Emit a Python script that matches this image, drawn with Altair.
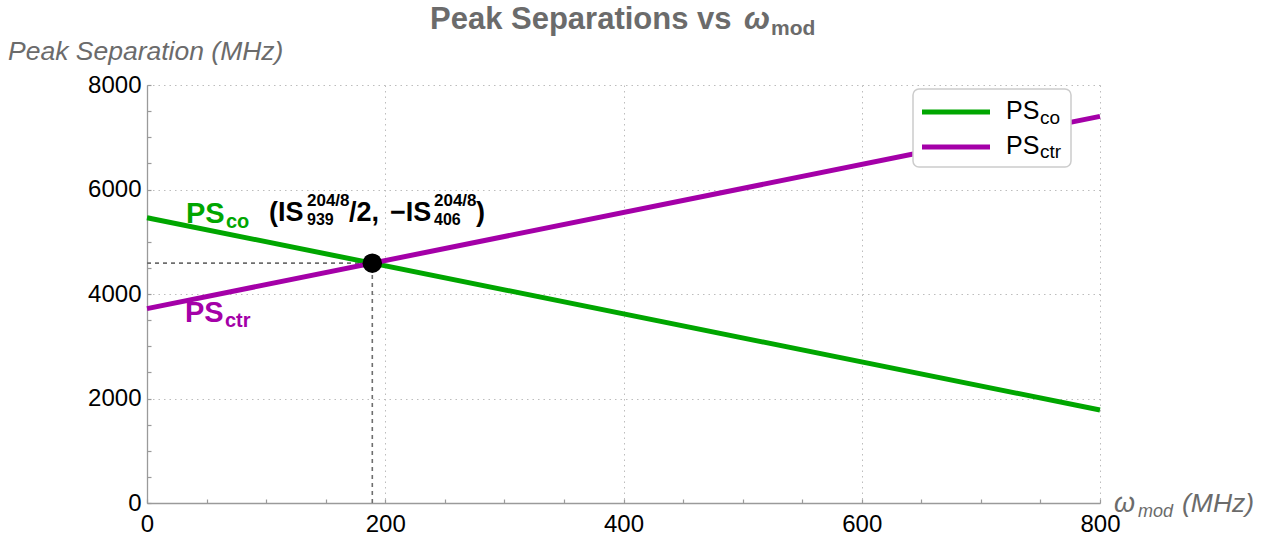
import altair as alt
import pandas as pd

# ---- data ---------------------------------------------------------------
omega_mod = [0, 800]          # MHz
ps_co = [5460, 1780]          # Peak separation, co-rotating (MHz)
ps_ctr = [3720, 7400]         # Peak separation, counter-rotating (MHz)
series_names = ["PS_co", "PS_ctr"]
series_colors = ["#00a600", "#a400a8"]
x_ticks = [0, 200, 400, 600, 800]
y_ticks = [0, 2000, 4000, 6000, 8000]
x_minor = list(range(0, 801, 50))
y_minor = list(range(0, 8001, 500))

# crossing point of the two straight lines
slope_co = (ps_co[1] - ps_co[0]) / (omega_mod[1] - omega_mod[0])
slope_ctr = (ps_ctr[1] - ps_ctr[0]) / (omega_mod[1] - omega_mod[0])
cross_x = (ps_ctr[0] - ps_co[0]) / (slope_co - slope_ctr)
cross_y = ps_co[0] + slope_co * cross_x

lines_df = pd.DataFrame(
    {
        "omega": omega_mod * 2,
        "ps": ps_co + ps_ctr,
        "series": [series_names[0]] * 2 + [series_names[1]] * 2,
    }
)
cross_df = pd.DataFrame({"omega": [cross_x], "ps": [cross_y], "zero": [0.0]})

# ---- layout -------------------------------------------------------------
W, H = 953, 418
PAD = {"left": 147, "top": 85, "right": 167, "bottom": 35}
FONT = "Liberation Sans"
GRAY_TXT = "#6b6b6b"
AXIS_GRAY = "#9a9a9a"

x_scale = alt.Scale(domain=[0, 800], nice=False, zero=False)
y_scale = alt.Scale(domain=[0, 8000], nice=False, zero=False)

main_x_axis = alt.Axis(
    values=x_ticks, grid=True, gridDash=[1.5, 4], gridColor="#bdbdbd", gridWidth=1,
    ticks=False, tickSize=0, domainColor=AXIS_GRAY, domainWidth=1.3,
    labelFont=FONT, labelFontSize=24, labelColor="black", labelPadding=9,
    labelFlush=False, labelOverlap=False, format="d", title=None, orient="bottom",
)
main_y_axis = alt.Axis(
    values=y_ticks, grid=True, gridDash=[1.5, 4], gridColor="#bdbdbd", gridWidth=1,
    ticks=False, tickSize=0, domainColor=AXIS_GRAY, domainWidth=1.3,
    labelFont=FONT, labelFontSize=24, labelColor="black", labelPadding=6,
    labelFlush=False, labelOverlap=False, format="d", title=None, orient="left",
)
# inward-pointing minor ticks
tick_x_axis = alt.Axis(
    values=x_minor, grid=False, domain=False, labels=False, ticks=True,
    tickSize=4, offset=-4, tickColor=AXIS_GRAY, tickWidth=1.2, title=None,
    orient="bottom",
)
tick_y_axis = alt.Axis(
    values=y_minor, grid=False, domain=False, labels=False, ticks=True,
    tickSize=4, offset=-4, tickColor=AXIS_GRAY, tickWidth=1.2, title=None,
    orient="left",
)

color = alt.Color(
    "series:N",
    scale=alt.Scale(domain=series_names, range=series_colors),
    legend=None,
)

lines = alt.Chart(lines_df).mark_line(strokeWidth=5).encode(
    x=alt.X("omega:Q", scale=x_scale, axis=main_x_axis),
    y=alt.Y("ps:Q", scale=y_scale, axis=main_y_axis),
    color=color,
    detail="series:N",
)

tick_layer = alt.Chart(lines_df).mark_line(opacity=0).encode(
    x=alt.X("omega:Q", scale=x_scale, axis=tick_x_axis),
    y=alt.Y("ps:Q", scale=y_scale, axis=tick_y_axis),
    detail="series:N",
)

dash_style = dict(color="#6e6e6e", strokeWidth=1.6, strokeDash=[4, 4])
h_dash = alt.Chart(cross_df).mark_rule(**dash_style).encode(
    x=alt.X("zero:Q", scale=x_scale, axis=None),
    x2="omega:Q",
    y=alt.Y("ps:Q", scale=y_scale, axis=None),
)
v_dash = alt.Chart(cross_df).mark_rule(**dash_style).encode(
    x=alt.X("omega:Q", scale=x_scale, axis=None),
    y=alt.Y("zero:Q", scale=y_scale, axis=None),
    y2="ps:Q",
)
cross_pt = alt.Chart(cross_df).mark_point(
    filled=True, color="black", opacity=1, size=380
).encode(
    x=alt.X("omega:Q", scale=x_scale, axis=None),
    y=alt.Y("ps:Q", scale=y_scale, axis=None),
)

one_row = pd.DataFrame({"k": [0]})


def gx(px):
    return px - PAD["left"]


def gy(py):
    return py - PAD["top"]


def txt(text, x, y, size, color="black", weight="normal", style="normal"):
    return alt.Chart(one_row).mark_text(
        text=text, align="left", baseline="alphabetic", font=FONT,
        fontSize=size, fontWeight=weight, fontStyle=style, color=color,
    ).encode(x=alt.value(gx(x)), y=alt.value(gy(y)))


# legend box
legend_box = alt.Chart(one_row).mark_rect(
    fill="white", stroke="#cccccc", strokeWidth=1.5, cornerRadius=6
).encode(
    x=alt.value(gx(913)), x2=alt.value(gx(1071)),
    y=alt.value(gy(89)), y2=alt.value(gy(167)),
)
legend_co = alt.Chart(one_row).mark_rule(color=series_colors[0], strokeWidth=5).encode(
    x=alt.value(gx(922)), x2=alt.value(gx(990)), y=alt.value(gy(112))
)
legend_ctr = alt.Chart(one_row).mark_rule(color=series_colors[1], strokeWidth=5).encode(
    x=alt.value(gx(922)), x2=alt.value(gx(990)), y=alt.value(gy(147))
)

texts = [
    # title
    txt("Peak Separations vs", 430, 29, 31, GRAY_TXT, "bold"),
    txt("ω", 744, 29, 31, GRAY_TXT, "bold", "italic"),
    txt("mod", 771, 35, 21, GRAY_TXT, "bold"),
    # axis titles
    txt("Peak Separation (MHz)", 8, 60, 26.5, GRAY_TXT, "normal", "italic"),
    txt("ω", 1114, 512, 27, GRAY_TXT, "normal", "italic"),
    txt("mod", 1138, 517, 18, GRAY_TXT, "normal", "italic"),
    txt("(MHz)", 1182, 512, 26.5, GRAY_TXT, "normal", "italic"),
    # legend labels
    txt("PS", 1006, 119, 25),
    txt("co", 1040, 124, 19),
    txt("PS", 1006, 154, 25),
    txt("ctr", 1040, 158, 19),
    # curve labels
    txt("PS", 186, 223, 29, series_colors[0], "bold"),
    txt("co", 226, 228, 20, series_colors[0], "bold"),
    txt("PS", 185, 322, 29, series_colors[1], "bold"),
    txt("ctr", 225, 327, 20, series_colors[1], "bold"),
    # crossing-point annotation
    txt("(IS", 269, 221, 27, "black", "bold"),
    txt("204/8", 307, 206, 17, "black", "bold"),
    txt("939", 307, 225, 16, "black", "bold"),
    txt("/2,", 349, 221, 27, "black", "bold"),
    txt("−IS", 390, 221, 27, "black", "bold"),
    txt("204/8", 434, 206, 17, "black", "bold"),
    txt("406", 434, 225, 16, "black", "bold"),
    txt(")", 476, 221, 27, "black", "bold"),
]

chart = (
    alt.layer(
        tick_layer, h_dash, v_dash, lines, cross_pt,
        legend_box, legend_co, legend_ctr, *texts,
    )
    .resolve_axis(x="independent", y="independent")
    .properties(
        width=W, height=H,
        autosize=alt.AutoSizeParams(type="none"),
        padding=PAD,
        background="white",
    )
    .configure_view(stroke="transparent")
)

chart.save("out.html", embed_options={"renderer": "svg", "actions": False})
